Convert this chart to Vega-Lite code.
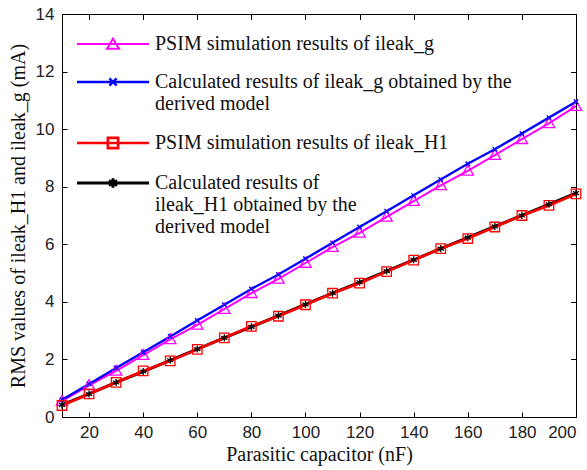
{
  "$schema": "https://vega.github.io/schema/vega-lite/v6.json",
  "width": 514,
  "height": 403,
  "autosize": {"type": "none"},
  "padding": {"left": 62, "top": 14, "right": 11, "bottom": 53},
  "background": "white",
  "config": {
    "view": {"stroke": null},
    "axis": {
      "grid": false,
      "domainColor": "#000000",
      "domainWidth": 1,
      "tickColor": "#000000",
      "tickSize": -5,
      "labelFont": "Liberation Sans",
      "labelFontSize": 17,
      "labelColor": "#222222",
      "titleFont": "Liberation Serif",
      "titleFontSize": 20,
      "titleFontWeight": "normal",
      "titleColor": "#111111"
    }
  },
  "data": {
    "values": [
      {"c": 10, "v": 0.55, "s": "A"}, {"c": 20, "v": 1.1, "s": "A"}, {"c": 30, "v": 1.6, "s": "A"}, {"c": 40, "v": 2.15, "s": "A"}, {"c": 50, "v": 2.7, "s": "A"},
      {"c": 60, "v": 3.2, "s": "A"}, {"c": 70, "v": 3.75, "s": "A"}, {"c": 80, "v": 4.3, "s": "A"}, {"c": 90, "v": 4.8, "s": "A"}, {"c": 100, "v": 5.35, "s": "A"},
      {"c": 110, "v": 5.9, "s": "A"}, {"c": 120, "v": 6.4, "s": "A"}, {"c": 130, "v": 6.95, "s": "A"}, {"c": 140, "v": 7.5, "s": "A"}, {"c": 150, "v": 8.05, "s": "A"},
      {"c": 160, "v": 8.55, "s": "A"}, {"c": 170, "v": 9.1, "s": "A"}, {"c": 180, "v": 9.65, "s": "A"}, {"c": 190, "v": 10.2, "s": "A"}, {"c": 200, "v": 10.8, "s": "A"},
      {"c": 10, "v": 0.6, "s": "B"}, {"c": 20, "v": 1.15, "s": "B"}, {"c": 30, "v": 1.7, "s": "B"}, {"c": 40, "v": 2.25, "s": "B"}, {"c": 50, "v": 2.8, "s": "B"},
      {"c": 60, "v": 3.35, "s": "B"}, {"c": 70, "v": 3.9, "s": "B"}, {"c": 80, "v": 4.45, "s": "B"}, {"c": 90, "v": 4.95, "s": "B"}, {"c": 100, "v": 5.5, "s": "B"},
      {"c": 110, "v": 6.05, "s": "B"}, {"c": 120, "v": 6.6, "s": "B"}, {"c": 130, "v": 7.15, "s": "B"}, {"c": 140, "v": 7.7, "s": "B"}, {"c": 150, "v": 8.25, "s": "B"},
      {"c": 160, "v": 8.8, "s": "B"}, {"c": 170, "v": 9.3, "s": "B"}, {"c": 180, "v": 9.85, "s": "B"}, {"c": 190, "v": 10.4, "s": "B"}, {"c": 200, "v": 10.95, "s": "B"},
      {"c": 10, "v": 0.42, "s": "D"}, {"c": 20, "v": 0.8, "s": "D"}, {"c": 30, "v": 1.2, "s": "D"}, {"c": 40, "v": 1.58, "s": "D"}, {"c": 50, "v": 1.97, "s": "D"},
      {"c": 60, "v": 2.36, "s": "D"}, {"c": 70, "v": 2.75, "s": "D"}, {"c": 80, "v": 3.13, "s": "D"}, {"c": 90, "v": 3.52, "s": "D"}, {"c": 100, "v": 3.91, "s": "D"},
      {"c": 110, "v": 4.3, "s": "D"}, {"c": 120, "v": 4.68, "s": "D"}, {"c": 130, "v": 5.07, "s": "D"}, {"c": 140, "v": 5.46, "s": "D"}, {"c": 150, "v": 5.85, "s": "D"},
      {"c": 160, "v": 6.23, "s": "D"}, {"c": 170, "v": 6.62, "s": "D"}, {"c": 180, "v": 7.0, "s": "D"}, {"c": 190, "v": 7.39, "s": "D"}, {"c": 200, "v": 7.78, "s": "D"},
      {"c": 10, "v": 0.4, "s": "C"}, {"c": 20, "v": 0.8, "s": "C"}, {"c": 30, "v": 1.2, "s": "C"}, {"c": 40, "v": 1.6, "s": "C"}, {"c": 50, "v": 1.95, "s": "C"},
      {"c": 60, "v": 2.35, "s": "C"}, {"c": 70, "v": 2.75, "s": "C"}, {"c": 80, "v": 3.15, "s": "C"}, {"c": 90, "v": 3.5, "s": "C"}, {"c": 100, "v": 3.9, "s": "C"},
      {"c": 110, "v": 4.3, "s": "C"}, {"c": 120, "v": 4.65, "s": "C"}, {"c": 130, "v": 5.05, "s": "C"}, {"c": 140, "v": 5.45, "s": "C"}, {"c": 150, "v": 5.85, "s": "C"},
      {"c": 160, "v": 6.2, "s": "C"}, {"c": 170, "v": 6.6, "s": "C"}, {"c": 180, "v": 7.0, "s": "C"}, {"c": 190, "v": 7.35, "s": "C"}, {"c": 200, "v": 7.75, "s": "C"}
    ]
  },
  "layer": [
    {
      "mark": {"type": "line"},
      "encoding": {
        "x": {
          "field": "c", "type": "quantitative",
          "scale": {"domain": [10, 200], "nice": false, "zero": false},
          "axis": {"values": [20, 40, 60, 80, 100, 120, 140, 160, 180, 200], "title": "Parasitic capacitor (nF)", "labelPadding": 12, "titlePadding": 4}
        },
        "y": {
          "field": "v", "type": "quantitative",
          "scale": {"domain": [0, 14], "nice": false},
          "axis": {"values": [0, 2, 4, 6, 8, 10, 12, 14], "title": "RMS values of ileak_H1 and ileak_g (mA)", "labelPadding": 13, "titlePadding": 7}
        },
        "color": {
          "field": "s", "type": "nominal",
          "scale": {"domain": ["A", "B", "C", "D"], "range": ["#FF00FF", "#0000FF", "#FF0000", "#000000"]}
        },
        "strokeWidth": {
          "field": "s", "type": "nominal",
          "scale": {"domain": ["A", "B", "C", "D"], "range": [2, 3, 2, 1.5]},
          "legend": null
        }
      }
    },
    {
      "transform": [{"filter": {"field": "s", "equal": "A"}}],
      "mark": {"type": "point", "filled": false, "strokeWidth": 1.3, "opacity": 1, "color": "#FF00FF", "shape": "M-1,0.75L1,0.75L0,-1Z", "size": 130},
      "encoding": {
        "x": {"field": "c", "type": "quantitative", "axis": {"orient": "top", "labels": false, "title": null, "values": [20, 40, 60, 80, 100, 120, 140, 160, 180, 200]}},
        "y": {"field": "v", "type": "quantitative", "axis": {"orient": "right", "labels": false, "title": null, "values": [0, 2, 4, 6, 8, 10, 12, 14]}}
      }
    },
    {
      "transform": [{"filter": {"field": "s", "equal": "B"}}],
      "mark": {"type": "point", "filled": false, "strokeWidth": 1.3, "opacity": 1, "color": "#0000FF", "shape": "M-1,-1L1,1M-1,1L1,-1", "size": 20},
      "encoding": {
        "x": {"field": "c", "type": "quantitative", "axis": {"orient": "top", "labels": false, "title": null, "values": [20, 40, 60, 80, 100, 120, 140, 160, 180, 200]}},
        "y": {"field": "v", "type": "quantitative", "axis": {"orient": "right", "labels": false, "title": null, "values": [0, 2, 4, 6, 8, 10, 12, 14]}}
      }
    },
    {
      "transform": [{"filter": {"field": "s", "equal": "C"}}],
      "mark": {"type": "point", "filled": false, "strokeWidth": 1.3, "opacity": 1, "color": "#FF0000", "shape": "square", "size": 90},
      "encoding": {
        "x": {"field": "c", "type": "quantitative", "axis": {"orient": "top", "labels": false, "title": null, "values": [20, 40, 60, 80, 100, 120, 140, 160, 180, 200]}},
        "y": {"field": "v", "type": "quantitative", "axis": {"orient": "right", "labels": false, "title": null, "values": [0, 2, 4, 6, 8, 10, 12, 14]}}
      }
    },
    {
      "transform": [{"filter": {"field": "s", "equal": "D"}}],
      "mark": {"type": "point", "filled": false, "strokeWidth": 1.3, "opacity": 1, "color": "#000000", "shape": "M0,-1V1M-0.87,-0.5L0.87,0.5M-0.87,0.5L0.87,-0.5", "size": 50},
      "encoding": {
        "x": {"field": "c", "type": "quantitative", "axis": {"orient": "top", "labels": false, "title": null, "values": [20, 40, 60, 80, 100, 120, 140, 160, 180, 200]}},
        "y": {"field": "v", "type": "quantitative", "axis": {"orient": "right", "labels": false, "title": null, "values": [0, 2, 4, 6, 8, 10, 12, 14]}}
      }
    },
    {
      "mark": {"type": "point", "filled": false, "opacity": 0},
      "encoding": {
        "x": {"field": "c", "type": "quantitative", "axis": {"orient": "top", "labels": false, "title": null, "values": [20, 40, 60, 80, 100, 120, 140, 160, 180, 200]}},
        "y": {"field": "v", "type": "quantitative", "axis": {"orient": "right", "labels": false, "title": null, "values": [0, 2, 4, 6, 8, 10, 12, 14]}},
        "color": {
          "field": "s", "type": "nominal",
          "legend": {
            "title": null,
            "orient": "none",
            "legendX": 11,
            "legendY": 20,
            "padding": 0,
            "rowPadding": 18,
            "labelOffset": 62,
            "labelFont": "Liberation Serif",
            "labelFontSize": 20,
            "labelColor": "#111111",
            "labelLimit": 600,
            "symbolSize": 144,
            "symbolStrokeWidth": 2,
            "symbolFillColor": "transparent",
            "symbolOpacity": 1,
            "labelExpr": "datum.value === 'A' ? '  PSIM simulation results of ileak_g' : datum.value === 'B' ? ['Calculated results of ileak_g obtained by the', 'derived model'] : datum.value === 'C' ? 'PSIM simulation results of ileak_H1' : ['Calculated results of', 'ileak_H1 obtained by the', 'derived model']",
            "encode": {
              "labels": {
                "update": {
                  "lineHeight": {"value": 26}
                }
              }
            }
          }
        },
        "shape": {
          "field": "s", "type": "nominal",
          "scale": {"domain": ["A", "B", "C", "D"], "range": ["M-1,0H11M4,0.8L6,0.8L5,-0.9Z", "M-1,0H11M4.4,-0.6L5.6,0.6M4.4,0.6L5.6,-0.6", "M-1,0H11M4.15,-0.85H5.85V0.85H4.15Z", "M-1,0H11M5,-0.8V0.8M4.3,-0.4L5.7,0.4M4.3,0.4L5.7,-0.4"]},
          "legend": null
        }
      }
    }
  ],
  "resolve": {"axis": {"x": "independent", "y": "independent"}}
}
